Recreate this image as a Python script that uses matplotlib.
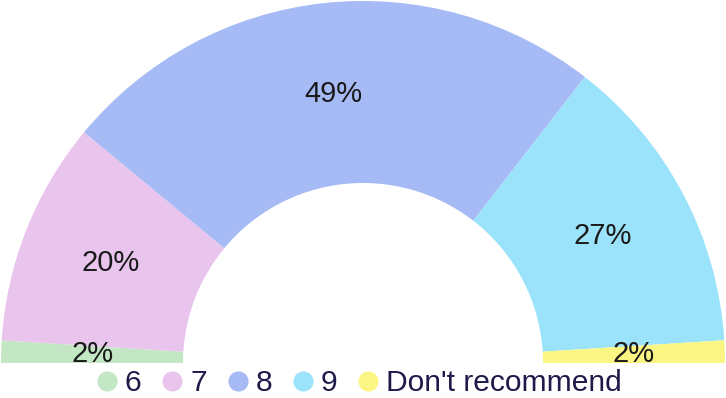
import matplotlib
matplotlib.use("Agg")
import matplotlib.pyplot as plt
from matplotlib.lines import Line2D
import numpy as np

categories = ["6", "7", "8", "9", "Don't recommend"]
values = [2, 20, 49, 27, 2]
labels = ["2%", "20%", "49%", "27%", "2%"]
colors = ["#c3e6c5", "#e9c5ee", "#a6baf5", "#9be3fb", "#fbf683"]

plt.rcParams['font.family'] = ['Liberation Sans', 'DejaVu Sans']
plt.rcParams['savefig.bbox'] = 'standard'

W, H = 726, 398
fig = plt.figure(figsize=(W / 100, H / 100), dpi=100)
pie_bottom_px = 364
rect = [0, (H - pie_bottom_px) / H, 1, pie_bottom_px / H]
ax = fig.add_axes(rect)

R = 362
width = 182
total = sum(values)
wedges, _ = ax.pie(values + [total], radius=R, startangle=180, counterclock=False,
                   colors=colors + ["none"], center=(0, 0),
                   wedgeprops=dict(width=width, linewidth=0), frame=True)
ax.set_aspect('auto', adjustable='box')
ax.set_position(rect)
ax.set_xlim(-363, 363)
ax.set_ylim(-1, pie_bottom_px - 1)
ax.axis('off')

r_lab = R - width / 2
for w, lab in zip(wedges[:len(values)], labels):
    ang = np.deg2rad((w.theta1 + w.theta2) / 2)
    t = ax.text(r_lab * np.cos(ang), r_lab * np.sin(ang), lab, ha='center', va='center',
                fontsize=21, color='#1a1a1a')
    t.set_clip_on(True)

handles = [Line2D([0], [0], marker='o', linestyle='none', markersize=13.5,
                  markerfacecolor=c, markeredgecolor=c) for c in colors]
leg = fig.legend(handles, categories, loc='center left',
                 bbox_to_anchor=(97 / W, (H - 383) / H),
                 bbox_transform=fig.transFigure,
                 ncol=5, frameon=False, fontsize=21.6, handletextpad=0.275,
                 columnspacing=0.7, handlelength=0.65, borderpad=0, borderaxespad=0)
for t in leg.get_texts():
    t.set_color('#1e1b4b')

fig.savefig("out.png", dpi=100)
